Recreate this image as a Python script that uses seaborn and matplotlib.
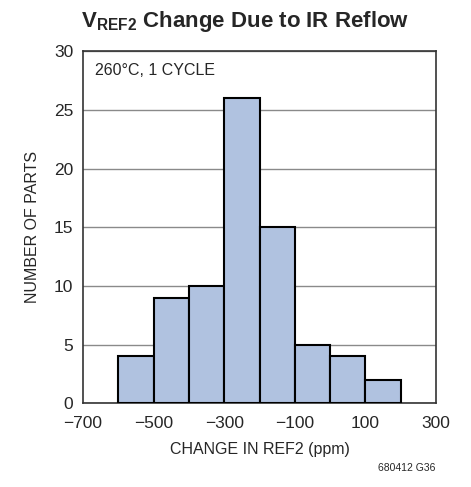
import numpy as np
import pandas as pd
import seaborn as sns
import matplotlib.pyplot as plt

# bins (ppm) and counts
bin_edges = [-600, -500, -400, -300, -200, -100, 0, 100, 200]
counts = [4, 9, 10, 26, 15, 5, 4, 2]
bin_centers = [(a + b) / 2 for a, b in zip(bin_edges[:-1], bin_edges[1:])]
x_ticks = [-700, -500, -300, -100, 100, 300]
x_tick_labels = ['\u2212700', '\u2212500', '\u2212300', '\u2212100', '100', '300']
y_ticks = [0, 5, 10, 15, 20, 25, 30]

df = pd.DataFrame({'change': bin_centers, 'parts': counts})

sns.set_style('white')
plt.rcParams['font.family'] = ['Liberation Sans', 'DejaVu Sans']
plt.rcParams['mathtext.fontset'] = 'custom'
plt.rcParams['mathtext.bf'] = 'Liberation Sans:bold'
plt.rcParams['mathtext.rm'] = 'Liberation Sans'

fig = plt.figure(figsize=(4.71, 4.87), dpi=100)
ax = fig.add_axes([0.176, 0.172, 0.750, 0.723])

sns.histplot(data=df, x='change', weights='parts', bins=bin_edges, ax=ax,
             color='#b0c2e0', alpha=1, edgecolor='black', linewidth=1.5, zorder=3)

ax.set_xlim(-700, 300)
ax.set_ylim(0, 30)
ax.set_xticks(x_ticks)
ax.set_xticklabels(x_tick_labels)
ax.set_yticks(y_ticks)
ax.tick_params(axis='x', length=0, labelsize=12.5, pad=9)
ax.tick_params(axis='y', length=0, labelsize=12.5, pad=7)
ax.yaxis.grid(True, color='#8a8a8a', linewidth=1, zorder=0)
ax.set_axisbelow(True)
for s in ax.spines.values():
    s.set_color('#333333')
    s.set_linewidth(1.2)

ax.set_xlabel('CHANGE IN REF2 (ppm)', fontsize=11.5, labelpad=8)
ax.set_ylabel('NUMBER OF PARTS', fontsize=11.5, labelpad=10)
ax.text(0.035, 0.965, '260°C, 1 CYCLE', transform=ax.transAxes, fontsize=11.5,
        va='top', ha='left')

fig.text(0.520, 0.955, r'$\mathbf{V_{REF2}}$ Change Due to IR Reflow', fontsize=16,
         fontweight='bold', ha='center', va='center')
fig.text(0.925, 0.04, '680412 G36', fontsize=7.5, ha='right', va='center')

fig.savefig('out.png', dpi=100)
